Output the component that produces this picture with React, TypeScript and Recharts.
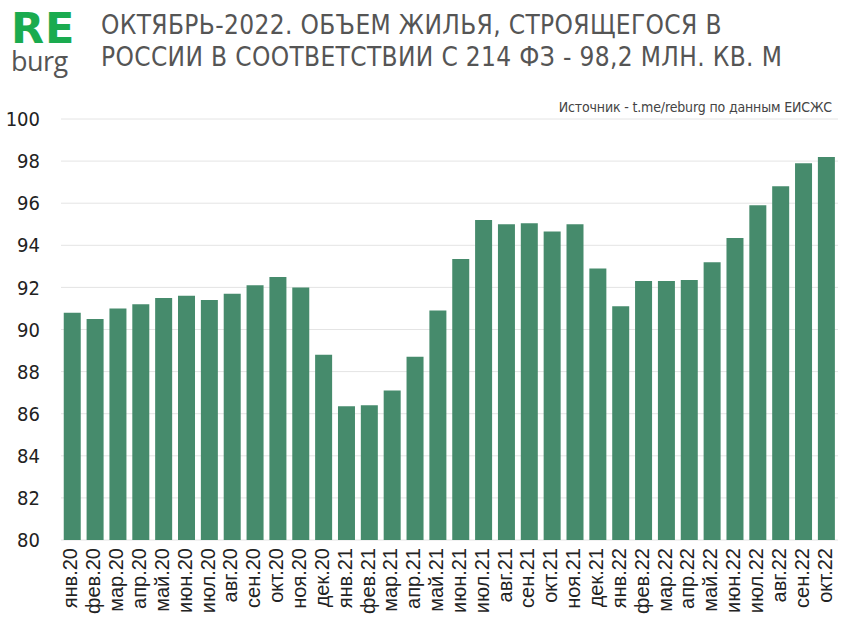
import React from 'react';
import { BarChart, Bar, XAxis, YAxis, CartesianGrid } from 'recharts';

const months = [
  'янв.20', 'фев.20', 'мар.20', 'апр.20', 'май.20', 'июн.20', 'июл.20', 'авг.20', 'сен.20', 'окт.20', 'ноя.20', 'дек.20',
  'янв.21', 'фев.21', 'мар.21', 'апр.21', 'май.21', 'июн.21', 'июл.21', 'авг.21', 'сен.21', 'окт.21', 'ноя.21', 'дек.21',
  'янв.22', 'фев.22', 'мар.22', 'апр.22', 'май.22', 'июн.22', 'июл.22', 'авг.22', 'сен.22', 'окт.22',
];

// млн кв. м
const volume = [
  90.8, 90.5, 91.0, 91.2, 91.5, 91.6, 91.4, 91.7, 92.1, 92.5, 92.0, 88.8,
  86.35, 86.4, 87.1, 88.7, 90.9, 93.35, 95.2, 95.0, 95.05, 94.65, 95.0, 92.9,
  91.1, 92.3, 92.3, 92.35, 93.2, 94.35, 95.9, 96.8, 97.9, 98.2,
];

const yTicks = [80, 82, 84, 86, 88, 90, 92, 94, 96, 98, 100];

const title = ['ОКТЯБРЬ-2022. ОБЪЕМ ЖИЛЬЯ, СТРОЯЩЕГОСЯ В', 'РОССИИ В СООТВЕТСТВИИ С 214 ФЗ - 98,2 МЛН. КВ. М'];
const source = 'Источник - t.me/reburg по данным ЕИСЖС';

const condensed = "'Liberation Sans Narrow', 'DejaVu Sans Condensed', Roboto, sans-serif";

const data = months.map((m, i) => ({ month: m, value: volume[i] }));

const MonthTick = (props: any) => {
  const { x, y, payload } = props;
  return (
    <text
      x={x}
      y={y}
      dy={5}
      transform={`rotate(-90, ${x}, ${y})`}
      textAnchor="end"
      fontSize={20}
      fill="#222"
      fontFamily="'Liberation Sans', Arial, sans-serif"
    >
      {payload.value}
    </text>
  );
};

const abs = (left: number, top: number, extra: React.CSSProperties): React.CSSProperties => ({
  position: 'absolute',
  left,
  top,
  lineHeight: 1,
  whiteSpace: 'nowrap',
  ...extra,
});

export default function App() {
  return (
    <div style={{ position: 'absolute', left: 0, top: 0, width: 855, height: 630, background: '#fff', overflow: 'hidden' }}>
      <div style={abs(11, 10, { color: '#1aab4f', fontSize: 43, lineHeight: '36px', fontWeight: 700, fontFamily: "'DejaVu Sans', sans-serif", letterSpacing: 1 })}>RE</div>
      <div style={abs(11, 47, { color: '#555', fontSize: 27, fontFamily: "'Open Sans', sans-serif", letterSpacing: -0.5 })}>burg</div>
      <div style={abs(101, 12, { fontFamily: condensed, fontStretch: 'condensed', fontSize: 26, letterSpacing: 0.35, color: '#555' })}>
        {title[0]}
      </div>
      <div style={abs(101, 44, { fontFamily: condensed, fontStretch: 'condensed', fontSize: 26, letterSpacing: 0.35, color: '#555' })}>
        {title[1]}
      </div>
      <div
        style={{
          position: 'absolute',
          right: 23,
          top: 100,
          lineHeight: 1,
          whiteSpace: 'nowrap',
          fontFamily: condensed,
          fontStretch: 'condensed',
          fontSize: 14,
          letterSpacing: -0.15,
          color: '#444',
        }}
      >
        {source}
      </div>
      <div style={{ position: 'absolute', left: 0, top: 0 }}>
        <BarChart width={855} height={630} data={data} margin={{ top: 119, right: 17, left: 0, bottom: 0 }} barCategoryGap="12%">
          <CartesianGrid vertical={false} stroke="#e4e4e4" />
          <XAxis dataKey="month" interval={0} tickLine={false} axisLine={false} height={90} tick={<MonthTick />} />
          <YAxis
            domain={[80, 100]}
            ticks={yTicks}
            interval={0}
            width={61}
            tickLine={false}
            axisLine={false}
            tickMargin={15}
            tick={{ fontSize: 20, fill: '#222', fontFamily: condensed }}
          />
          <Bar dataKey="value" fill="#468b6c" isAnimationActive={false} />
        </BarChart>
      </div>
    </div>
  );
}
